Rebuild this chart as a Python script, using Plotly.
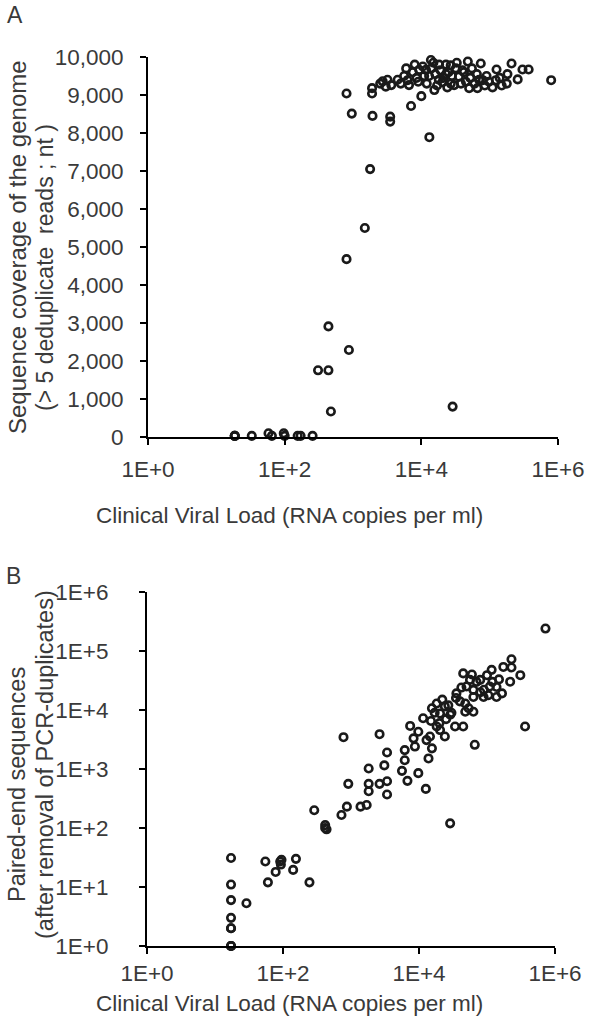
import plotly.graph_objects as go

# ---------------- Panel A data: viral load vs genome coverage ----------------
a_load = [18.6, 18.6, 18.6, 33, 58, 65, 97, 100, 155, 171, 256,
          308, 437, 475, 437, 871, 804, 1490, 1780, 28700, 13100,
          804, 960, 1930, 1900, 1900, 2720, 3020, 3630, 3500, 3500,
          7070, 6300, 6600, 10000, 15500, 20400, 9300, 11700, 13800, 18200,
          22900, 26900, 30200, 35500, 47900, 50100, 66100, 74100, 79400, 97700,
          123000, 126000, 178000, 182000, 209000, 257000, 302000, 372000, 794000,
          5000, 5600, 7500, 8500, 11000, 12000, 14000, 16000, 17000, 19000,
          21000, 24000, 25000, 28000, 32000, 38000, 42000, 45000, 55000, 60000,
          70000, 85000, 110000, 140000, 150000, 2500, 3200,
          4500, 6000, 8000, 9000, 10500, 13000, 15000, 18000, 23000, 27000,
          33000, 40000, 52000, 65000, 90000]
a_coverage = [30, 30, 30, 30, 100, 30, 100, 30, 30, 30, 30,
              1755, 1755, 670, 2910, 2290, 4680, 5500, 7050, 800, 7890,
              9040, 8510, 8450, 9180, 9040, 9360, 9220, 9260, 8430, 8300,
              8710, 9390, 9260, 8970, 9130, 9340, 9660, 9660, 9920, 9800,
              9800, 9780, 9260, 9480, 9880, 9180, 9180, 9830, 9390, 9350,
              9390, 9670, 9300, 9550, 9830, 9410, 9670, 9670, 9390,
              9300, 9500, 9600, 9450, 9500, 9300, 9700, 9550, 9250, 9650,
              9450, 9200, 9600, 9500, 9700, 9300, 9600, 9350, 9700, 9300,
              9400, 9250, 9200, 9450, 9250, 9300, 9400,
              9400, 9700, 9800, 9350, 9750, 9500, 9850, 9400, 9550, 9300,
              9850, 9650, 9450, 9550, 9500]

# ---------------- Panel B data: viral load vs paired-end reads ----------------
b_load = [17.2, 17.2, 17.2, 17.2, 17.2, 17.2, 17.2, 17.2, 17.2,
          29, 55, 60, 78, 91, 93, 95, 141, 155, 245, 288, 417, 417, 437,
          724, 870, 912, 776, 1380, 1700, 1820, 1820, 1820, 2630, 2630, 3390, 3390,
          3090, 3390, 5620, 6760, 9770, 12600, 6170, 6170, 7410, 9770, 8320, 8710,
          11500, 13800, 15500, 12900, 14500, 15500, 18200, 20400, 18200, 20400,
          24000, 24000, 28800, 33900, 44700, 47900, 66100, 28700, 35500, 44700,
          47900, 56200, 63100, 63100, 63100, 53700, 89100, 79400, 100000, 117000,
          105000, 138000, 138000, 166000, 174000, 229000, 229000, 219000, 309000,
          363000, 724000,
          20000, 25000, 30000, 40000, 50000, 70000, 90000, 120000,
          15000, 17000, 22000, 27000, 35000, 42000, 60000, 80000, 110000, 150000]
b_reads = [1, 1, 1, 2, 2, 3, 6, 11, 31,
           5.3, 27, 12, 18, 27, 24, 29, 19.5, 30, 12, 200, 112, 100, 95,
           166, 230, 560, 3460, 230, 245, 1020, 560, 420, 3890, 560, 620, 370,
           1150, 1900, 930, 630, 850, 460, 1410, 2090, 5370, 4270, 3310, 2400,
           7240, 1510, 2240, 3090, 3550, 10700, 12900, 8710, 5250, 4570,
           3550, 11500, 8320, 5250, 5250, 9330, 2570, 120, 19100, 41700,
           12900, 32400, 21900, 16600, 9330, 10700, 16600, 32400, 38900, 47900,
           17800, 16600, 24500, 19100, 53700, 72400, 52500, 30200, 38900,
           5250, 240000,
           6000, 7000, 9000, 14000, 25000, 30000, 22000, 30000,
           6500, 9000, 15000, 12000, 16000, 24000, 40000, 20000, 25000, 33000]

x_tickvals = [1, 100, 10000, 1000000]
x_ticktext = ["1E+0", "1E+2", "1E+4", "1E+6"]
b_y_tickvals = [1, 10, 100, 1000, 10000, 100000, 1000000]
b_y_ticktext = ["1E+0", "1E+1", "1E+2", "1E+3", "1E+4", "1E+5", "1E+6"]

x_title = "Clinical Viral Load (RNA copies per ml)"
a_y_title = ["Sequence coverage of the genome", "(> 5 deduplicate  reads ; nt )"]
b_y_title = ["Paired-end sequences", "(after removal of PCR-duplicates)"]

W, H = 598, 1023
FONT = "Liberation Sans, Arial, sans-serif"
TXT = "#3a3a3a"


def px(x):
    return x / W


def py(y):
    return 1 - y / H


marker = dict(symbol="circle-open", size=7.5, color="#1a1a1a", line=dict(width=2.6))

fig = go.Figure()
fig.add_trace(go.Scatter(x=a_load, y=a_coverage, mode="markers", marker=marker,
                         xaxis="x", yaxis="y", cliponaxis=False, showlegend=False))
fig.add_trace(go.Scatter(x=b_load, y=b_reads, mode="markers", marker=marker,
                         xaxis="x2", yaxis="y2", cliponaxis=False, showlegend=False))

axis_common = dict(showline=True, linewidth=2, linecolor="black", ticks="outside",
                   ticklen=6, tickwidth=2, tickcolor="black", showgrid=False,
                   zeroline=False, automargin=False,
                   tickfont=dict(family=FONT, size=22.5, color=TXT))

fig.update_layout(
    width=W, height=H, margin=dict(l=0, r=0, t=0, b=0, autoexpand=False),
    paper_bgcolor="white", plot_bgcolor="white",
    xaxis=dict(axis_common, type="log", range=[0, 6], domain=[px(148), px(558)],
               anchor="y", tickvals=x_tickvals, ticktext=x_ticktext, ticklabelstandoff=5),
    yaxis=dict(axis_common, range=[0, 10000], domain=[py(437), py(57)], anchor="x",
               dtick=1000, tickformat=",d", ticklabelstandoff=12),
    xaxis2=dict(axis_common, type="log", range=[0, 6], domain=[px(147), px(555)],
                anchor="y2", tickvals=x_tickvals, ticktext=x_ticktext, ticklabelstandoff=0),
    yaxis2=dict(axis_common, type="log", range=[0, 6], domain=[py(946), py(592)],
                anchor="x2", tickvals=b_y_tickvals, ticktext=b_y_ticktext,
                ticklabelstandoff=26),
)

ann = []


def add_text(text, x, y, size=22.5, angle=0):
    ann.append(dict(text=text, x=px(x), y=py(y), xref="paper", yref="paper",
                    showarrow=False, textangle=angle, xanchor="center", yanchor="middle",
                    font=dict(family=FONT, size=size, color=TXT)))


add_text("A", 15, 15, size=23)
add_text("B", 13, 576, size=23)
add_text(x_title, 289, 515)
add_text(x_title, 289, 1003)
add_text(a_y_title[0], 17, 247, size=24, angle=-90)
add_text(a_y_title[1], 45, 268, size=23, angle=-90)
add_text(b_y_title[0], 17, 785, size=23.5, angle=-90)
add_text(b_y_title[1], 45, 765, size=23.5, angle=-90)

fig.update_layout(annotations=ann)
fig.write_html("out.html", config={"displayModeBar": False},
               post_script="document.body.style.margin='0';document.body.style.overflow='hidden';")
